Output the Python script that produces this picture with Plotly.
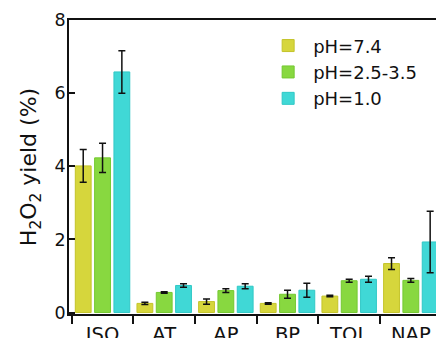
import plotly.graph_objects as go

categories = ["ISO", "AT", "AP", "BP", "TOL", "NAP"]
series_names = ["pH=7.4", "pH=2.5-3.5", "pH=1.0"]
ph74 = [4.01, 0.25, 0.30, 0.25, 0.45, 1.34]
ph74_err = [0.45, 0.03, 0.07, 0.02, 0.02, 0.16]
ph25 = [4.23, 0.55, 0.60, 0.50, 0.87, 0.88]
ph25_err = [0.40, 0.02, 0.05, 0.11, 0.04, 0.05]
ph10 = [6.58, 0.74, 0.72, 0.61, 0.91, 1.93]
ph10_err = [0.58, 0.05, 0.07, 0.19, 0.08, 0.84]
y_ticks = [0, 2, 4, 6, 8]

fills = ["#d6d63c", "#88d840", "#40d8d6"]
edges = ["#c4c42a", "#74c830", "#30c8c6"]

fig = go.Figure()
for name, vals, errs, fc, ec in zip(series_names, [ph74, ph25, ph10],
                                    [ph74_err, ph25_err, ph10_err], fills, edges):
    fig.add_trace(go.Bar(
        x=categories, y=vals, name=name,
        marker=dict(color=fc, line=dict(color=ec, width=1)),
        error_y=dict(type="data", array=errs, visible=True,
                     color="#111111", thickness=1.5, width=3.5),
    ))

font_family = "DejaVu Sans, Arial, sans-serif"
fig.update_layout(
    width=436, height=338,
    margin=dict(l=69, r=0, t=19.5, b=24, autoexpand=False),
    paper_bgcolor="white", plot_bgcolor="white",
    barmode="group", bargap=0.06, bargroupgap=0.18,
    font=dict(family=font_family, color="#111111"),
    showlegend=True,
    legend=dict(x=0.529, y=0.975, xanchor="left", yanchor="top",
                font=dict(size=18, family=font_family, color="#111111"),
                bgcolor="rgba(0,0,0,0)", itemwidth=40, tracegroupgap=0),
    xaxis=dict(
        range=[-0.544, 5.408], showgrid=False, zeroline=False,
        showline=True, linecolor="#111111", linewidth=1.5, mirror=True,
        ticks="outside", tickson="boundaries", ticklen=8, tickwidth=1.5,
        tickcolor="#111111", ticklabelstandoff=2,
        tickfont=dict(size=19.5, family=font_family, color="#111111"),
        automargin=False,
    ),
    yaxis=dict(
        range=[-0.04, 8], tickvals=y_ticks, showgrid=False, zeroline=False,
        showline=True, linecolor="#111111", linewidth=1.5, mirror=False,
        ticks="inside", ticklen=6, tickwidth=1.5, tickcolor="#111111",
        ticklabelstandoff=-2,
        tickfont=dict(size=17.5, family=font_family, color="#111111"),
        title=dict(text="H<sub>2</sub>O<sub>2</sub> yield (%)",
                   font=dict(size=22, family=font_family, color="#111111"),
                   standoff=12),
        automargin=False,
    ),
)

fig.write_html(
    "out.html",
    config={"displayModeBar": False},
    post_script="document.body.style.margin='0';"
                "document.documentElement.style.overflow='hidden';",
)
